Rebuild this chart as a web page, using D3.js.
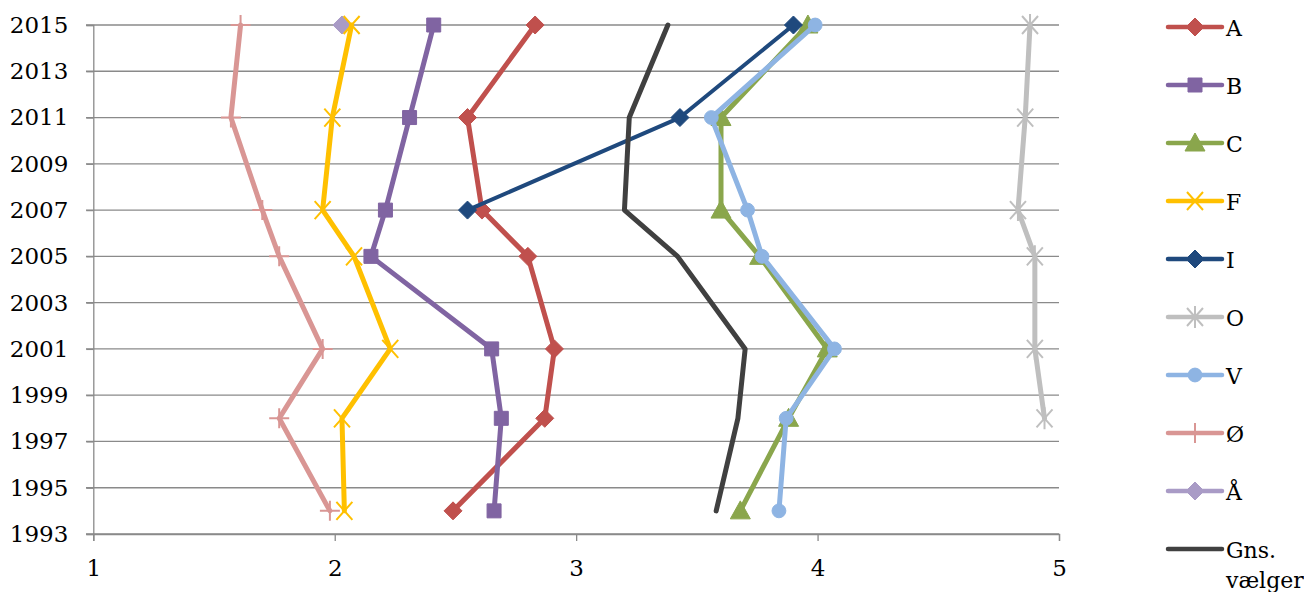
<!DOCTYPE html>
<html><head><meta charset="utf-8">
<script src="https://cdn.jsdelivr.net/npm/d3@7"></script>
<style>body{margin:0;background:#fff}svg{display:block}
svg text{font-family:"DejaVu Serif";}</style>
</head><body><svg id="c" width="1304" height="592"></svg>
<script>
const years = [1994, 1998, 2001, 2005, 2007, 2011, 2015];
const yTicks = [1993,1995,1997,1999,2001,2003,2005,2007,2009,2011,2013,2015];
const xTicks = [1,2,3,4,5];
const seriesNames = ["A","B","C","F","I","O","V","Ø","Å","Gns. vælger"];
const A   = [2.49, 2.87, 2.91, 2.80, 2.61, 2.55, 2.83];
const B   = [2.66, 2.69, 2.65, 2.15, 2.21, 2.31, 2.41];
const C   = [3.68, 3.88, 4.04, 3.76, 3.60, 3.60, 3.96];
const F   = [2.04, 2.03, 2.23, 2.08, 1.95, 1.99, 2.07];
const I   = [null, null, null, null, 2.55, 3.43, 3.90];
const O   = [null, 4.94, 4.90, 4.90, 4.83, 4.86, 4.88];
const V   = [3.84, 3.87, 4.07, 3.77, 3.71, 3.56, 3.99];
const OE  = [1.98, 1.77, 1.95, 1.77, 1.70, 1.57, 1.61];
const AA  = [null, null, null, null, null, null, 2.03];
const GNS = [3.58, 3.67, 3.70, 3.42, 3.20, 3.22, 3.38];

const series = [
  {name:"A", values:A, color:"#C0504D", marker:"diamond"},
  {name:"B", values:B, color:"#8064A2", marker:"square"},
  {name:"C", values:C, color:"#8AA64C", marker:"triangle"},
  {name:"I", values:I, color:"#1F497D", marker:"diamond"},
  {name:"O", values:O, color:"#BFBFBF", marker:"asterisk"},
  {name:"V", values:V, color:"#8EB4E3", marker:"circle"},
  {name:"Ø", values:OE, color:"#D99694", marker:"plus"},
  {name:"Å", values:AA, color:"#A99BC6", marker:"diamond"},
  {name:"F", values:F, color:"#FFC000", marker:"x"},
  {name:"Gns. vælger", values:GNS, color:"#404040", marker:"none"}
];

const svg = d3.select("#c");
const fs = 23, lfs = 22;
const x = d3.scaleLinear().domain([1,5]).range([93.3,1059]);
const y = d3.scaleLinear().domain([1993,2015]).range([534,25]);

// gridlines
const grid = svg.append("g");
grid.selectAll("line").data(yTicks).join("line")
  .attr("x1",86).attr("x2",x(5)).attr("y1",d=>y(d)).attr("y2",d=>y(d))
  .attr("stroke","#8a8a8a").attr("stroke-width",1.3);

// axes
const yAxis = svg.append("g").attr("transform",`translate(${x(1)},0)`)
  .call(d3.axisLeft(y).tickValues(yTicks).tickFormat(d3.format("d")).tickSize(7).tickPadding(18));
const xAxis = svg.append("g").attr("transform",`translate(0,${y(1993)})`)
  .call(d3.axisBottom(x).tickValues(xTicks).tickFormat(d3.format("d")).tickSize(7).tickPadding(19));
[yAxis,xAxis].forEach(a=>{
  a.attr("font-family",null).attr("font-size",fs);
  a.select(".domain").attr("stroke","#8a8a8a").attr("stroke-width",1.3);
  a.selectAll(".tick line").attr("stroke","#8a8a8a").attr("stroke-width",1.3);
  a.selectAll("text").attr("font-size",fs).attr("fill","#000");
});

function markerPath(type){
  switch(type){
    case "diamond": return "M0,-9L9,0L0,9L-9,0Z";
    case "square": return "M-7,-7H7V7H-7Z";
    case "triangle": return "M0,-10L10,8H-10Z";
    case "circle": return d3.symbol(d3.symbolCircle, 150)();
    case "x": return "M-8,-9L8,9M-8,9L8,-9";
    case "plus": return "M-10,0H10M0,-10V10";
    case "asterisk": return "M-8,-9L8,9M-8,9L8,-9M0,-11V11";
  }
  return "";
}
function drawMarker(g, s, px, py){
  if(s.marker==="none") return;
  const open = (s.marker==="x"||s.marker==="plus"||s.marker==="asterisk");
  g.append("path").attr("d",markerPath(s.marker))
    .attr("transform",`translate(${px},${py})`)
    .attr("fill", open ? "none" : s.color)
    .attr("stroke", s.color).attr("stroke-width", open?2:1);
}

const line = d3.line().defined(d=>d.v!=null).x(d=>x(d.v)).y(d=>y(d.yr));
const plot = svg.append("g");
series.forEach(s=>{
  const pts = years.map((yr,i)=>({yr, v:s.values[i]}));
  const g = plot.append("g");
  g.append("path").datum(pts).attr("d",line).attr("fill","none")
    .attr("stroke",s.color).attr("stroke-width", s.name==="I"?4:5)
    .attr("stroke-linejoin","round").attr("stroke-linecap","round");
  pts.filter(d=>d.v!=null).forEach(d=>drawMarker(g,s,x(d.v),y(d.yr)));
});

// legend (original order)
const legendOrder = ["A","B","C","F","I","O","V","Ø","Å","Gns. vælger"];
const lg = svg.append("g");
legendOrder.forEach((n,i)=>{
  const s = series.find(t=>t.name===n);
  const cy = 27 + i*58;
  const g = lg.append("g");
  g.append("line").attr("x1",1168).attr("x2",1222).attr("y1",cy).attr("y2",cy)
    .attr("stroke",s.color).attr("stroke-width",4.5).attr("stroke-linecap","round");
  drawMarker(g,s,1195,cy);
  const t = g.append("text").attr("x",1226).attr("y",cy+9)
    .attr("font-size",lfs).attr("fill","#000");
  if(n==="Gns. vælger"){
    t.append("tspan").attr("x",1226).text("Gns.");
    t.append("tspan").attr("x",1226).attr("dy",30).text("vælger");
  } else t.text(n);
});
</script></body></html>
